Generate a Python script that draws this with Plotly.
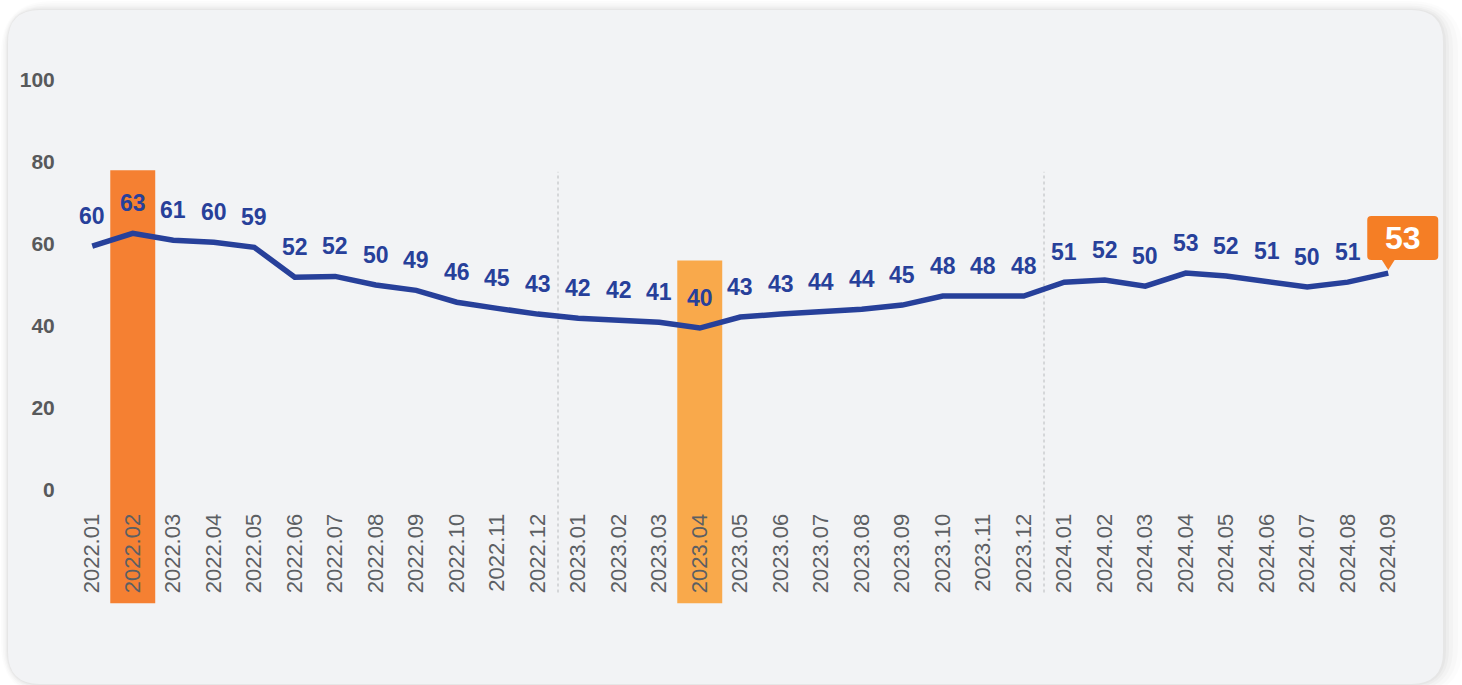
import plotly.graph_objects as go

months = ["2022.01", "2022.02", "2022.03", "2022.04", "2022.05", "2022.06", "2022.07", "2022.08",
          "2022.09", "2022.10", "2022.11", "2022.12", "2023.01", "2023.02", "2023.03", "2023.04",
          "2023.05", "2023.06", "2023.07", "2023.08", "2023.09", "2023.10", "2023.11", "2023.12",
          "2024.01", "2024.02", "2024.03", "2024.04", "2024.05", "2024.06", "2024.07", "2024.08",
          "2024.09"]
values = [59.5, 62.6, 60.9, 60.4, 59.2, 51.9, 52.1, 50.0, 48.7, 45.8, 44.3, 42.9, 41.9, 41.4, 40.9, 39.5,
          42.2, 42.9, 43.4, 44.1, 45.1, 47.3, 47.3, 47.3, 50.7, 51.2, 49.7, 52.9, 52.2, 50.9, 49.5, 50.7,
          52.9]
labels = ["60", "63", "61", "60", "59", "52", "52", "50", "49", "46", "45", "43", "42", "42", "41", "40",
          "43", "43", "44", "44", "45", "48", "48", "48", "51", "52", "50", "53", "52", "51", "50", "51",
          "53"]
y_ticks = [0, 20, 40, 60, 80, 100]
highlight_idx = [1, 15]
highlight_top = [78, 56]
highlight_colors = ["#F58032", "#F9A94B"]
year_breaks = [11.5, 23.5]

W, H = 1462, 685
L, R, T, B = 72, 18, 80, 195
pw, ph = W - L - R, H - T - B
step = 40.5  # pixels per category
x_max = -0.5 + pw / step

def px2x(px):
    return (px - L) / pw

def py2y(py):
    return (H - B - py) / ph

def rounded_rect(x0, y0, x1, y1, r):
    rx, ry = r / pw, r / ph
    a, b, c, d = px2x(x0), py2y(y1), px2x(x1), py2y(y0)
    return (f"M {a+rx},{d} L {c-rx},{d} Q {c},{d} {c},{d-ry} L {c},{b+ry} Q {c},{b} {c-rx},{b} "
            f"L {a+rx},{b} Q {a},{b} {a},{b+ry} L {a},{d-ry} Q {a},{d} {a+rx},{d} Z")

fig = go.Figure()

fig.add_trace(go.Scatter(
    x=list(range(len(months))), y=values, mode="lines",
    line=dict(color="#27409A", width=5.5), hoverinfo="skip", showlegend=False,
))

shapes = []
for grow, col in [(20, "rgba(0,0,0,0.010)"), (15, "rgba(0,0,0,0.014)"), (10, "rgba(0,0,0,0.018)"),
                  (6, "rgba(0,0,0,0.022)"), (3, "rgba(0,0,0,0.028)")]:
    shapes.append(dict(type="path", xref="paper", yref="paper", layer="below",
                       path=rounded_rect(8 - grow * 0.35, 10 - grow * 0.45, 1443 + grow, 684 + grow * 0.6,
                                         32 + grow),
                       fillcolor=col, line=dict(width=0)))
shapes.append(dict(type="path", xref="paper", yref="paper", layer="below",
                   path=rounded_rect(8, 10, 1443, 684, 32),
                   fillcolor="#F2F3F5", line=dict(width=0)))

for idx, top, col in zip(highlight_idx, highlight_top, highlight_colors):
    shapes.append(dict(type="rect", xref="x", yref="paper", layer="below",
                       x0=idx - 0.555, x1=idx + 0.555, y0=-0.276, y1=top / 100,
                       fillcolor=col, line=dict(width=0)))

for xb in year_breaks:
    shapes.append(dict(type="line", xref="x", yref="paper", layer="below",
                       x0=xb, x1=xb, y0=-0.25, y1=0.776,
                       line=dict(color="#B8BABD", width=1, dash="dot")))

last = len(values) - 1
shapes.append(dict(type="path", xref="x", yref="y", xsizemode="pixel", ysizemode="pixel",
                   xanchor=last, yanchor=values[last],
                   path="M -7,14 L 7,14 L 0,3 Z", fillcolor="#F57E25", line=dict(width=0)))
shapes.append(dict(type="path", xref="x", yref="y", xsizemode="pixel", ysizemode="pixel",
                   xanchor=last, yanchor=values[last],
                   path="M -17,57 L 46,57 Q 50,57 50,53 L 50,17 Q 50,13 46,13 L -17,13 Q -21,13 -21,17 "
                        "L -21,53 Q -21,57 -17,57 Z",
                   fillcolor="#F57E25", line=dict(width=0)))

annotations = []
for i in range(last):
    annotations.append(dict(x=i, y=values[i], text=labels[i], showarrow=False, yshift=30,
                            font=dict(family="Liberation Sans", size=23, color="#27409A", weight=700)))
annotations.append(dict(x=last, y=values[last], text=labels[last], showarrow=False,
                        xshift=14.5, yshift=35,
                        font=dict(family="Liberation Sans", size=32, color="#FFFFFF", weight=700)))

fig.update_layout(
    width=W, height=H,
    margin=dict(l=L, r=R, t=T, b=B, autoexpand=False),
    paper_bgcolor="#FFFFFF", plot_bgcolor="rgba(0,0,0,0)",
    shapes=shapes, annotations=annotations, showlegend=False,
    xaxis=dict(range=[-0.5, x_max], tickmode="array", tickvals=list(range(len(months))),
               ticktext=months, tickangle=-90, showgrid=False, zeroline=False, showline=False,
               ticks="outside", ticklen=14, tickcolor="rgba(0,0,0,0)",
               tickfont=dict(family="Liberation Sans", size=22, color="#5C5F63")),
    yaxis=dict(range=[0, 100], tickmode="array", tickvals=y_ticks,
               showgrid=False, zeroline=False, showline=False,
               ticks="outside", ticklen=12, tickcolor="rgba(0,0,0,0)",
               tickfont=dict(family="Liberation Sans", size=21, color="#58595B", weight=700)),
)

fig.write_html("out.html", config={"displayModeBar": False},
               post_script="document.body.style.margin='0';document.body.style.overflow='hidden';")
